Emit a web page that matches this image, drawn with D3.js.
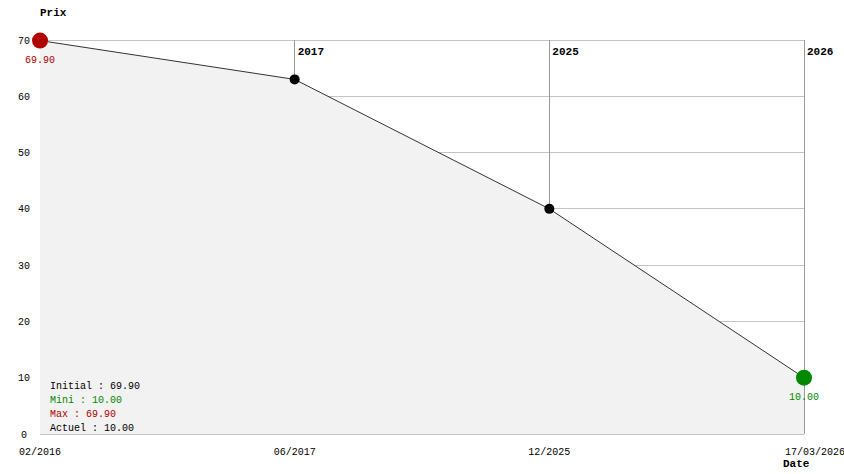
<!DOCTYPE html>
<html>
<head>
<meta charset="utf-8">
<script src="https://d3js.org/d3.v7.min.js"></script>
<style>
  body { margin: 0; background: #fff; }
  text { font-family: "Liberation Mono", "DejaVu Sans Mono", monospace; font-size: 10px; }
</style>
</head>
<body>
<svg id="chart" width="844" height="474"></svg>
<script>
const dates = ["02/2016", "06/2017", "12/2025", "17/03/2026"];
const prices = [69.90, 63.0, 40.0, 10.00];
const years = ["", "2017", "2025", "2026"];
const yTicks = [0, 10, 20, 30, 40, 50, 60, 70];
const summary = [
  { label: "Initial : 69.90", color: "#000" },
  { label: "Mini : 10.00", color: "#008800" },
  { label: "Max : 69.90", color: "#b00000" },
  { label: "Actuel : 10.00", color: "#000" }
];

const svg = d3.select("#chart");
const x = d3.scalePoint().domain(dates).range([40, 804]);
const y = d3.scaleLinear().domain([0, 70]).range([434, 40]);
const data = dates.map((d, i) => ({ date: d, price: prices[i], year: years[i] }));

// horizontal grid
svg.selectAll("line.hgrid").data(yTicks).join("line")
  .attr("x1", x(dates[0])).attr("x2", x(dates[dates.length - 1]))
  .attr("y1", d => y(d)).attr("y2", d => y(d))
  .attr("stroke", "#c4c4c4").attr("stroke-width", 1).attr("shape-rendering", "crispEdges");

// vertical year lines
svg.selectAll("line.vgrid").data(data.filter(d => d.year)).join("line")
  .attr("x1", d => x(d.date)).attr("x2", d => x(d.date))
  .attr("y1", y(70)).attr("y2", y(0))
  .attr("stroke", "#999").attr("stroke-width", 1).attr("shape-rendering", "crispEdges");

// area
const area = d3.area().x(d => x(d.date)).y0(y(0)).y1(d => y(d.price));
svg.append("path").datum(data).attr("d", area).attr("fill", "#f2f2f2");

// line
const line = d3.line().x(d => x(d.date)).y(d => y(d.price));
svg.append("path").datum(data).attr("d", line).attr("fill", "none").attr("stroke", "#333").attr("stroke-width", 1);

// year labels
svg.selectAll("text.year").data(data.filter(d => d.year)).join("text")
  .attr("x", d => x(d.date) + 3).attr("y", 55)
  .style("font-weight", "bold").style("font-size", "11px")
  .text(d => d.year);

// points
const last = data.length - 1;
svg.selectAll("circle.pt").data(data).join("circle")
  .attr("cx", d => x(d.date)).attr("cy", d => y(d.price))
  .attr("r", (d, i) => (i === 0 || i === last) ? 8 : 5)
  .attr("fill", (d, i) => i === 0 ? "#b00000" : i === last ? "#008800" : "#000");

svg.append("text").attr("x", x(dates[0])).attr("y", y(prices[0]) + 22)
  .attr("text-anchor", "middle").attr("fill", "#b00000").text(prices[0].toFixed(2));
svg.append("text").attr("x", x(dates[last])).attr("y", y(prices[last]) + 22)
  .attr("text-anchor", "middle").attr("fill", "#008800").text(prices[last].toFixed(2));

// y ticks
svg.selectAll("text.ytick").data(yTicks).join("text")
  .attr("x", 24).attr("y", d => y(d)).attr("dy", "0.35em")
  .attr("text-anchor", "middle").text(d => d);

// x ticks
svg.selectAll("text.xtick").data(dates).join("text")
  .attr("x", (d, i) => i === last ? x(d) - 19 : x(d))
  .attr("y", 455)
  .attr("text-anchor", (d, i) => i === last ? "start" : "middle")
  .text(d => d);

// axis titles
svg.append("text").attr("x", 40).attr("y", 16).style("font-weight", "bold").style("font-size", "11px").text("Prix");
svg.append("text").attr("x", 783).attr("y", 467).style("font-weight", "bold").style("font-size", "11px").text("Date");

// summary
svg.selectAll("text.sum").data(summary).join("text")
  .attr("x", 50).attr("y", (d, i) => 389 + i * 14)
  .attr("fill", d => d.color).text(d => d.label);
</script>
</body>
</html>
